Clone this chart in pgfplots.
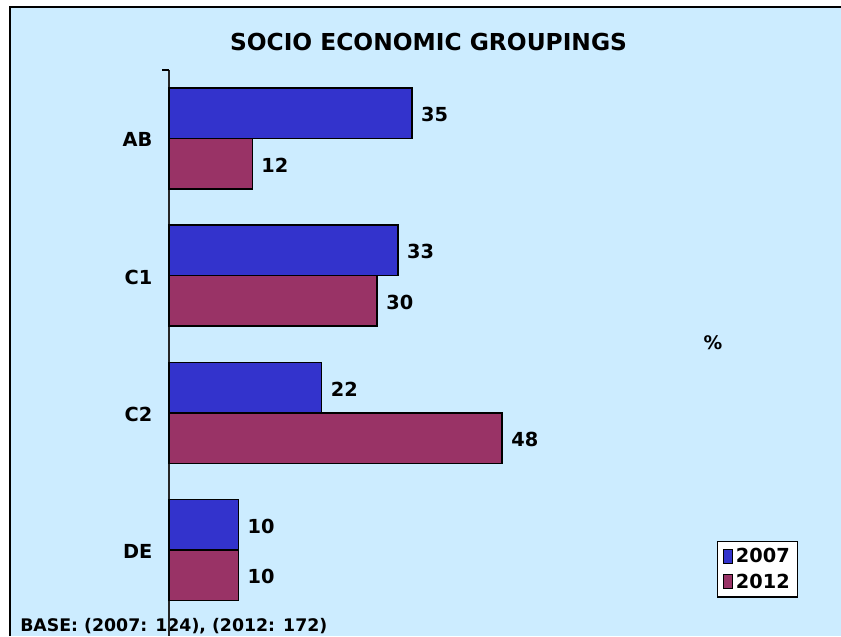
\documentclass[border=0pt]{standalone}
\usepackage{fontspec}
\setmainfont{DejaVu Sans}
\usepackage{pgfplots}
\pgfplotsset{compat=1.18}
\definecolor{bgblue}{HTML}{CCECFF}
\definecolor{barblue}{HTML}{3333CC}
\definecolor{barred}{HTML}{993366}
\begin{document}
\begin{tikzpicture}[x=0.75pt,y=-0.75pt]
\fill[white] (0,0) rectangle (841,636);
\useasboundingbox (0,0) rectangle (841,636);
\fill[bgblue] (10,7) rectangle (841,636);
\draw[line width=1.5pt] (10,636) -- (10,7) -- (841,7);
\node[font=\fontsize{17.5}{20}\selectfont\bfseries] at (428.5,42.5) {SOCIO ECONOMIC GROUPINGS};
\node[font=\fontsize{14}{16}\selectfont\bfseries] at (713,343) {\%};
\node[font=\fontsize{13}{15}\selectfont\bfseries, anchor=base west, inner sep=0pt] at (20,631) {BASE: (2007: 124), (2012: 172)};
\begin{axis}[
  at={(126.75pt,-52.5pt)}, anchor=north west,
  scale only axis, width=504pt, height=424.5pt,
  xmin=0, xmax=96.83, ymin=-0.5, ymax=3.628, y dir=reverse,
  xbar, bar width=37.9pt,
  hide x axis, axis y line*=left,
  y axis line style={line width=0.9pt, black!85},
  ytick={0,1,2,3}, yticklabels={AB,C1,C2,DE},
  major tick length=0pt,
  extra y ticks={-0.5}, extra y tick labels={},
  extra y tick style={major tick length=5pt, tick align=outside, tick style={line width=0.9pt, black}},
  yticklabel style={font=\fontsize{14.5}{16}\selectfont\bfseries, xshift=-9pt, yshift=-1pt},
  /pgf/number format/assume math mode=true,
  nodes near coords,
  nodes near coords style={font=\fontsize{14.5}{16}\selectfont\bfseries, anchor=west, xshift=3pt, yshift=-1pt},
  clip=false,
  legend style={at={(0.8155,0.1678)}, anchor=north west, draw=black, line width=1pt, fill=white,
    font=\fontsize{14.5}{16}\selectfont\bfseries, inner xsep=4pt, inner ysep=3pt, row sep=3pt,
    /tikz/every even column/.append style={column sep=1pt}},
  legend image code/.code={\draw[#1, line width=0.7pt] (0pt,-5pt) rectangle (7pt,5.5pt);},
]
\addplot[fill=barblue, draw=black, line width=1.1pt, bar shift=18.95pt] coordinates {(35,0) (33,1) (22,2) (10,3)};
\addplot[fill=barred, draw=black, line width=1.1pt, bar shift=-18.95pt] coordinates {(12,0) (30,1) (48,2) (10,3)};
\legend{2007,2012}
\end{axis}
\end{tikzpicture}
\end{document}
